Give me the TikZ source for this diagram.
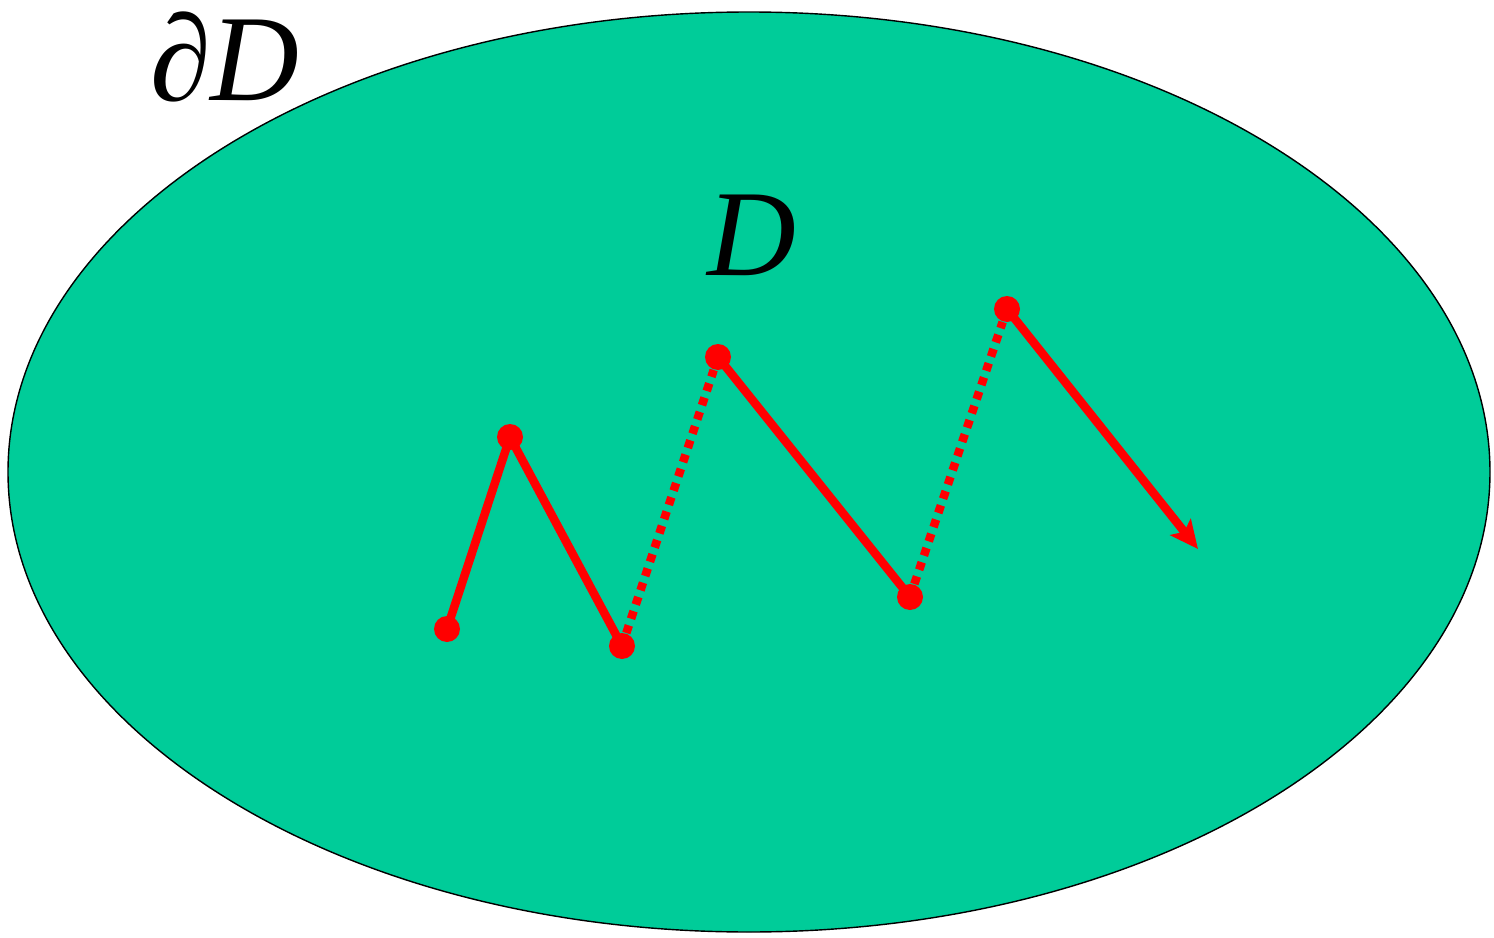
\documentclass[tikz,border=0pt]{standalone}
\usepackage{fontspec}
\setmainfont{Liberation Serif}
\usetikzlibrary{arrows.meta}
\definecolor{Domain}{HTML}{00CC99}
\definecolor{Walk}{HTML}{FF0000}

\begin{document}
\begin{tikzpicture}[
      dot/.style={circle,fill=Walk,inner sep=0pt,minimum size=0.26cm},
      hop/.style={draw=Walk,line width=0.085cm},
      jump/.style={hop,dash pattern=on 0.08cm off 0.07cm},
      lbl/.style={font=\fontsize{35}{40}\selectfont\itshape,inner sep=0pt}]
      \useasboundingbox (0,0) rectangle (14.94,9.37);
      % domain
      \draw[fill=Domain,draw=black,line width=0.4pt] (7.49,4.65) ellipse [x radius=7.41,y radius=4.60];
      \node[lbl] (bd) at (2.25,8.80) {∂D};
      \node[lbl] (dom) at (7.52,7.02) {D};
      % walk
      \node[dot] (p1) at (4.47,3.08) {};
      \node[dot] (p2) at (5.10,5.00) {};
      \node[dot] (p3) at (6.22,2.91) {};
      \node[dot] (p4) at (7.18,5.80) {};
      \node[dot] (p5) at (9.10,3.40) {};
      \node[dot] (p6) at (10.07,6.28) {};
      \coordinate (end) at (11.98,3.88);
      \draw[hop] (p1.center) -- (p2.center) -- (p3.center);
      \draw[jump] (p3) -- (p4);
      \draw[hop] (p4.center) -- (p5.center);
      \draw[jump] (p5) -- (p6);
      \draw[hop,-{Stealth[length=0.28cm,width=0.26cm,inset=0.06cm]}] (p6.center) -- (end);
\end{tikzpicture}
\end{document}
